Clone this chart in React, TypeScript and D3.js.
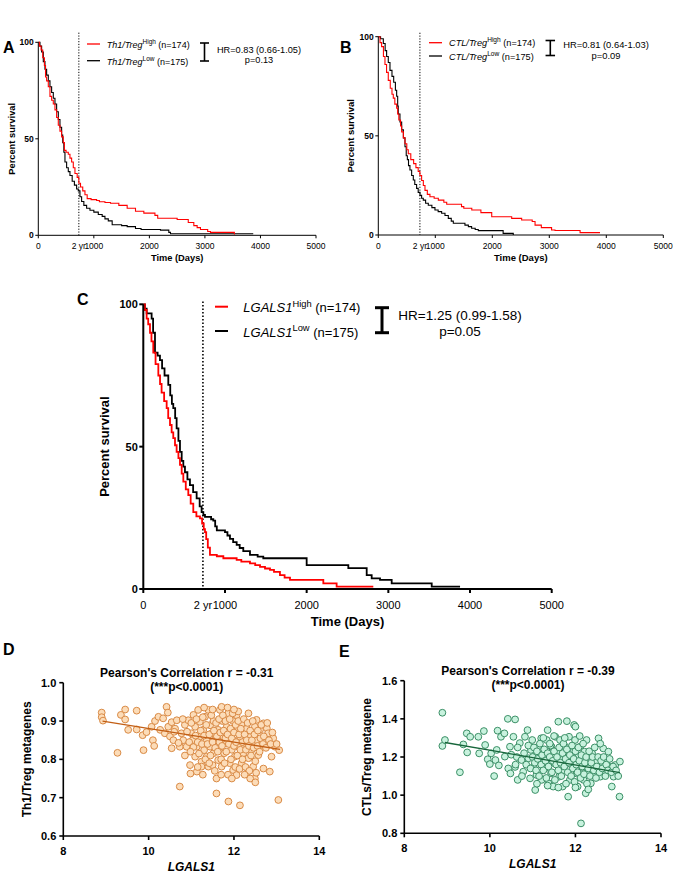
import React from "react";
import * as d3 from "d3";

const FONT = "'Liberation Sans', Arial, sans-serif";

// Kaplan-Meier steps: [days, percent survival]
const th1High = [[0,100],[20,98],[50,96],[80,92],[110,88],[130,82],[150,80],[180,77],[210,72],[240,70],[270,68],[300,65],[330,61],[360,57],[390,54],[420,51],[450,48],[470,44],[500,43],[540,42],[570,40],[600,38],[630,35],[660,32],[700,30],[730,27],[760,25],[800,23],[840,21],[880,19],[950,18.5],[1050,18],[1100,17.4],[1200,17],[1300,16.6],[1450,15.5],[1600,14],[1750,12.5],[1900,11.5],[2100,10.3],[2150,8.8],[2500,8.2],[2700,6.6],[2800,5],[2860,4],[2920,3],[3050,2],[3100,1.5],[3530,0.7],[3540,0.7]];
const th1Low = [[0,100],[30,98],[60,95],[90,90],[120,86],[150,83],[180,80],[210,77],[240,74],[270,71],[300,68],[330,64],[360,60],[390,56],[420,52],[440,48],[460,43],[480,38],[510,35],[540,33],[570,31],[610,28],[650,26],[690,24],[720,23],[750,20],[780,17.5],[820,15.5],[870,14],[930,13],[1000,12],[1080,10.8],[1150,9.8],[1200,8.5],[1260,7.5],[1330,5.5],[1500,5],[1600,4.5],[1750,3.5],[1850,3],[2200,2.7],[2350,1.5],[2380,0.8],[3870,0.8]];
const ctlHigh = [[0,100],[30,97],[58,95],[90,90],[117,86],[145,82],[175,78],[210,74],[240,71],[263,69],[290,66],[322,64],[340,61],[360,58],[390,55],[410,52],[440,49],[468,46],[500,43],[526,41],[570,38],[620,36],[660,34],[700,32],[730,30],[760,27.5],[790,25],[819,22.5],[860,20.5],[906,19.3],[980,18.5],[1053,17.6],[1150,16.5],[1200,15.5],[1460,14.3],[1500,13.5],[1640,12.6],[1800,11.3],[1990,9.2],[2340,8.4],[2515,7.6],[2700,6.8],[2750,5],[2860,3.7],[3040,2.5],[3100,2.3],[3540,1.2],[3890,1.2]];
const ctlLow = [[0,100],[40,99],[88,96.6],[120,93],[146,90],[175,87],[205,83],[240,80],[270,77],[300,73],[322,70],[340,65],[350,61],[380,57],[410,53],[440,49],[468,44.5],[490,40],[510,38],[530,35],[555,32.8],[585,30],[614,27.7],[640,25.5],[672,23.5],[700,21.5],[731,20],[760,18.5],[789,17.6],[830,16],[877,15],[940,13.8],[994,12.6],[1050,11.8],[1111,11],[1170,9.8],[1228,8.4],[1280,7],[1316,5.9],[1520,5],[1580,4.2],[1637,3.4],[1700,2.8],[1754,2.2],[2190,0.8],[2368,0]];
const lgHigh = [[0,100],[20,98],[41,95],[60,93],[82,90],[100,87],[122,83],[150,79],[184,75],[205,72],[224,69],[255,66],[286,63.5],[305,60],[327,57.6],[347,55],[367,53],[388,50.5],[408,48.2],[430,46],[449,43.6],[470,40.5],[490,37.7],[520,35],[551,33],[580,30],[612,27],[650,25.5],[694,24.8],[720,23],[740,21],[755,20],[770,17.5],[790,14.5],[816,12],[900,11.5],[980,10.8],[1143,10.2],[1200,9.6],[1306,9],[1370,8.4],[1429,7.8],[1490,7.2],[1551,6.7],[1600,6],[1673,4.9],[1730,4],[1796,3.2],[2204,2],[2367,0.8],[2816,0.8]];
const lgLow = [[0,100],[20,98.5],[41,96.8],[102,95],[120,90],[143,83],[175,82],[204,80.4],[230,77.5],[260,75],[306,71.7],[330,68],[350,65],[367,63.5],[390,60],[408,56.4],[430,52],[449,48.2],[470,45],[490,43],[510,41],[540,38.5],[571,36.5],[610,34],[653,31.8],[690,29],[714,27],[735,26],[755,25.3],[830,24.5],[857,24],[880,22],[900,20.6],[1000,20],[1030,18.8],[1061,17.6],[1100,16.5],[1143,15.5],[1180,14.4],[1224,13.3],[1306,12],[1400,11.4],[1469,10.8],[2000,8.4],[2510,7.3],[2735,4.9],[2796,3.7],[2898,3.2],[3041,2],[3531,0.8],[3878,0.8]];

const kmXTicks = [0, 1000, 2000, 3000, 4000, 5000];
const kmYTicks = [0, 50, 100];
const twoYears = 730;

// scatter: [LGALS1, metagene ratio]
const th1Scatter = [[8.9,0.922],[8.9,0.910],[8.93,0.901],[9.27,0.817],[9.45,0.930],[9.35,0.916],[9.45,0.904],[9.52,0.877],[9.72,0.927],[9.72,0.878],[9.86,0.863],[9.88,0.824],[9.95,0.871],[10.07,0.885],[10.1,0.85],[10.15,0.90],[10.13,0.835],[10.23,0.911],[10.27,0.877],[10.34,0.907],[10.38,0.868],[10.42,0.937],[10.45,0.922],[10.46,0.885],[10.5,0.86],[10.54,0.897],[10.58,0.85],[10.54,0.829],[10.62,0.88],[10.66,0.902],[10.73,0.729],[10.77,0.868],[10.73,0.833],[10.81,0.85],[10.85,0.89],[10.89,0.833],[10.93,0.902],[10.97,0.785],[10.98,0.763],[11.0,0.868],[11.03,0.85],[11.05,0.916],[11.09,0.885],[11.09,0.807],[11.13,0.768],[11.13,0.833],[11.16,0.929],[11.2,0.898],[11.2,0.859],[11.24,0.794],[11.24,0.781],[11.28,0.877],[11.3,0.824],[11.32,0.911],[11.36,0.85],[11.36,0.807],[11.4,0.929],[11.4,0.781],[11.44,0.889],[11.44,0.833],[11.48,0.868],[11.52,0.90],[11.52,0.816],[11.55,0.85],[11.59,0.75],[11.59,0.711],[11.63,0.877],[11.63,0.798],[11.67,0.929],[11.67,0.833],[11.71,0.937],[11.71,0.781],[11.73,0.90],[11.75,0.859],[11.77,0.816],[11.83,0.885],[11.83,0.842],[11.87,0.92],[11.87,0.69],[11.9,0.79],[11.9,0.868],[11.95,0.825],[11.98,0.90],[11.98,0.85],[11.98,0.772],[12.02,0.807],[12.06,0.915],[12.06,0.759],[12.08,0.877],[12.1,0.833],[12.14,0.68],[12.14,0.859],[12.18,0.893],[12.18,0.79],[12.22,0.816],[12.26,0.842],[12.3,0.763],[12.3,0.88],[12.34,0.92],[12.34,0.803],[12.38,0.859],[12.41,0.824],[12.45,0.781],[12.49,0.75],[12.49,0.885],[12.53,0.85],[12.53,0.903],[12.57,0.811],[12.61,0.877],[12.65,0.838],[12.69,0.894],[12.69,0.776],[12.73,0.859],[12.77,0.881],[12.8,0.868],[12.84,0.768],[12.88,0.807],[12.92,0.855],[12.96,0.833],[13.04,0.694],[13.06,0.824],
  [10.6,0.872],[10.7,0.843],[10.8,0.905],[10.9,0.872],[10.95,0.845],[11.0,0.895],[11.05,0.832],[11.1,0.862],[11.12,0.905],[11.15,0.845],[11.18,0.815],[11.22,0.875],[11.25,0.84],[11.27,0.91],[11.3,0.862],[11.33,0.8],[11.35,0.89],[11.38,0.84],[11.42,0.865],[11.45,0.81],[11.47,0.915],[11.5,0.845],[11.5,0.785],[11.53,0.875],[11.56,0.83],[11.58,0.895],[11.6,0.86],[11.62,0.82],[11.65,0.905],[11.66,0.845],[11.68,0.87],[11.7,0.8],[11.72,0.835],[11.74,0.915],[11.76,0.875],[11.78,0.79],[11.8,0.855],[11.8,0.9],[11.82,0.82],[11.85,0.865],[11.86,0.76],[11.88,0.84],[11.9,0.905],[11.92,0.88],[11.93,0.8],[11.95,0.855],[11.97,0.92],[12.0,0.835],[12.0,0.87],[12.03,0.78],[12.04,0.89],[12.05,0.845],[12.08,0.81],[12.1,0.9],[12.12,0.865],[12.13,0.775],[12.15,0.825],[12.16,0.88],[12.2,0.845],[12.2,0.8],[12.23,0.905],[12.25,0.865],[12.27,0.78],[12.28,0.825],[12.3,0.85],[12.32,0.895],[12.35,0.835],[12.36,0.77],[12.38,0.875],[12.4,0.81],[12.42,0.85],[12.44,0.9],[12.46,0.83],[12.48,0.865],[12.5,0.795],[12.52,0.765],[12.55,0.835],[12.56,0.875],[12.6,0.82],[12.62,0.855],[12.64,0.89],[12.68,0.84],[12.7,0.86],[12.75,0.83],[12.78,0.895],[12.82,0.85],[12.86,0.84],[12.9,0.87],[13.0,0.84],[11.15,0.78],[11.27,0.76],[10.98,0.82],[10.85,0.81],[11.42,0.79],[11.55,0.77],[11.7,0.76],[12.38,0.75],[12.5,0.74],[11.95,0.75],[12.25,0.76],[11.3,0.935],[11.5,0.93],[11.85,0.935],[12.1,0.925],[12.0,0.93]];
const ctlScatter = [[8.89,1.432],[8.89,1.258],[8.95,1.289],[9.3,1.12],[9.38,1.266],[9.46,1.324],[9.47,1.224],[9.54,1.306],[9.73,1.306],[9.75,1.219],[9.86,1.336],[9.89,1.263],[9.95,1.188],[10.0,1.163],[10.03,1.219],[10.1,1.10],[10.13,1.184],[10.18,1.338],[10.16,1.237],[10.21,1.156],[10.26,1.306],[10.34,1.324],[10.35,1.202],[10.42,1.40],[10.43,1.14],[10.47,1.254],[10.48,1.114],[10.5,1.212],[10.55,1.306],[10.59,1.397],[10.59,1.148],[10.63,1.20],[10.65,1.08],[10.7,1.273],[10.74,1.184],[10.78,1.123],[10.82,1.306],[10.88,1.341],[10.9,1.193],[10.94,1.088],[10.96,1.237],[10.99,1.289],[11.02,1.148],[11.06,1.027],[11.08,1.212],[11.09,1.106],[11.13,1.254],[11.15,1.176],[11.2,1.298],[11.21,1.08],[11.25,1.219],[11.29,1.14],[11.33,1.289],[11.35,1.341],[11.37,1.062],[11.39,1.193],[11.43,1.114],[11.44,1.254],[11.48,1.045],[11.51,1.167],[11.53,1.306],[11.56,1.228],[11.6,1.385],[11.62,1.097],[11.64,1.289],[11.68,1.184],[11.7,1.045],[11.72,1.131],[11.76,1.254],[11.8,1.388],[11.82,1.202],[11.83,0.992],[11.85,1.306],[11.87,1.08],[11.91,1.158],[11.95,1.228],[11.97,1.368],[11.99,1.289],[12.0,1.359],[12.03,1.114],[12.05,1.045],[12.07,1.202],[12.11,1.254],[12.13,0.852],[12.15,1.148],[12.19,1.08],[12.21,1.228],[12.24,1.01],[12.26,1.289],[12.28,1.123],[12.31,1.184],[12.36,1.062],[12.39,1.219],[12.42,1.148],[12.46,1.114],[12.5,1.176],[12.54,1.298],[12.58,1.097],[12.61,1.158],[12.65,1.245],[12.69,1.123],[12.74,1.184],[12.77,1.228],[12.81,1.148],[12.85,1.045],[12.89,1.097],[12.93,1.158],[13.03,0.992],[13.04,1.176],
  [10.8,1.22],[10.85,1.16],[10.9,1.26],[10.95,1.14],[11.0,1.2],[11.03,1.25],[11.05,1.17],[11.08,1.13],[11.1,1.23],[11.12,1.19],[11.15,1.1],[11.17,1.27],[11.2,1.16],[11.22,1.21],[11.25,1.13],[11.27,1.24],[11.3,1.18],[11.32,1.09],[11.35,1.22],[11.37,1.15],[11.4,1.2],[11.42,1.26],[11.45,1.12],[11.47,1.18],[11.5,1.23],[11.52,1.08],[11.55,1.16],[11.57,1.2],[11.6,1.13],[11.62,1.25],[11.65,1.17],[11.67,1.1],[11.7,1.22],[11.72,1.27],[11.74,1.15],[11.77,1.19],[11.78,1.06],[11.8,1.24],[11.82,1.12],[11.85,1.17],[11.87,1.21],[11.9,1.1],[11.92,1.26],[11.94,1.14],[11.96,1.19],[11.98,1.07],[12.0,1.23],[12.02,1.16],[12.05,1.12],[12.07,1.25],[12.09,1.18],[12.12,1.09],[12.14,1.21],[12.16,1.15],[12.18,1.27],[12.2,1.11],[12.22,1.17],[12.25,1.2],[12.27,1.06],[12.3,1.14],[12.32,1.23],[12.34,1.1],[12.37,1.17],[12.4,1.2],[12.43,1.13],[12.45,1.25],[12.48,1.09],[12.5,1.15],[12.53,1.2],[12.56,1.12],[12.6,1.18],[12.63,1.14],[12.66,1.2],[12.7,1.1],[12.72,1.16],[12.76,1.13],[12.8,1.19],[12.84,1.12],[12.88,1.15],[12.95,1.13],[13.0,1.1],[10.6,1.16],[10.65,1.25],[10.75,1.1],[11.1,1.06],[11.35,1.05],[11.6,1.04],[12.0,1.04],[12.3,1.03],[11.25,1.3],[11.5,1.31],[11.75,1.3],[12.1,1.31],[11.4,1.27],[12.58,1.27]];

// fitted regression lines
const th1Fit = [[8.92, 0.900], [13.08, 0.826]];
const ctlFit = [[8.95, 1.276], [13.04, 1.118]];

const scatterXTicks = [8, 10, 12, 14];
const th1YTicks = [0.6, 0.7, 0.8, 0.9, 1.0];
const ctlYTicks = [0.8, 1.0, 1.2, 1.4, 1.6];

function KMPanel(p) {
  const x = d3.scaleLinear().domain([0, 5000]).range([p.x0, p.x1]);
  const y = d3.scaleLinear().domain([0, 100]).range([p.yBot, p.yTop]);
  const line = d3.line().x((d) => x(d[0])).y((d) => y(d[1])).curve(d3.curveStepAfter);
  const s = p.sup;
  return (
    <g fontFamily={FONT}>
      <text x={p.letterX} y={p.letterY} fontSize={16} fontWeight="bold">{p.letter}</text>
      <line x1={x(twoYears)} x2={x(twoYears)} y1={y(p.dotTop)} y2={y(0)} stroke="#000" strokeWidth={p.dotW} strokeDasharray={p.dash} />
      <path d={line(p.low)} fill="none" stroke="#000" strokeWidth={p.curveW} />
      <path d={line(p.high)} fill="none" stroke="#f00" strokeWidth={p.curveW} />
      {/* axes */}
      <line x1={p.x0} x2={p.x0} y1={p.yTop} y2={p.yBot} stroke="#000" strokeWidth={p.axisW} />
      <line x1={p.x0} x2={p.x1} y1={p.yBot} y2={p.yBot} stroke="#000" strokeWidth={p.axisW} />
      {kmYTicks.map((t) => (
        <g key={t}>
          <line x1={p.x0 - p.tick} x2={p.x0} y1={y(t)} y2={y(t)} stroke="#000" strokeWidth={p.axisW} />
          <text x={p.x0 - p.tick - 1.5} y={y(t)} dy="0.35em" textAnchor="end" fontSize={p.tickFont} fontWeight="bold">{t}</text>
        </g>
      ))}
      {kmXTicks.map((t) => (
        <g key={t}>
          <line x1={x(t)} x2={x(t)} y1={p.yBot} y2={p.yBot + p.tick} stroke="#000" strokeWidth={p.axisW} />
          <text x={x(t)} y={p.xTickY} textAnchor="middle" fontSize={p.tickFont}>{t}</text>
        </g>
      ))}
      <text x={x(twoYears)} y={p.xTickY} textAnchor="middle" fontSize={p.tickFont}>2 yr</text>
      <text x={(p.x0 + p.x1) / 2} y={p.xLabY} textAnchor="middle" fontSize={p.labFont} fontWeight="bold">Time (Days)</text>
      <text transform={`translate(${p.yLabX},${(p.yTop + p.yBot) / 2}) rotate(-90)`} textAnchor="middle" fontSize={p.labFont} fontWeight="bold">Percent survival</text>
      {/* legend */}
      {[["High", "174", "#f00", p.row1], ["Low", "175", "#000", p.row2]].map(([lvl, n, c, r]) => (
        <g key={lvl}>
          <line x1={p.legX} x2={p.legX + p.legLen} y1={r} y2={r} stroke={c} strokeWidth={p.legW} />
          <text x={p.legTextX} y={r + p.legDy} fontSize={p.legFont}>
            <tspan fontStyle="italic">{p.gene}</tspan>
            <tspan fontSize={p.legFont * 0.72} dy={-p.legFont * 0.42}>{lvl}</tspan>
            <tspan dy={p.legFont * 0.42}>{` (n=${n})`}</tspan>
          </text>
        </g>
      ))}
      <g stroke="#000" strokeWidth={p.barW}>
        <line x1={p.barX} x2={p.barX} y1={s[0]} y2={s[1]} />
        <line x1={p.barX - p.capW / 2} x2={p.barX + p.capW / 2} y1={s[0]} y2={s[0]} />
        <line x1={p.barX - p.capW / 2} x2={p.barX + p.capW / 2} y1={s[1]} y2={s[1]} />
      </g>
      <text x={p.hrX} y={p.hrY} textAnchor="middle" fontSize={p.hrFont}>{p.hr}</text>
      <text x={p.hrX} y={p.pY} textAnchor="middle" fontSize={p.hrFont}>{p.pv}</text>
    </g>
  );
}

function ScatterPanel(p) {
  const x = d3.scaleLinear().domain([8, 14]).range([p.x0, p.x1]);
  const y = d3.scaleLinear().domain(p.yDomain).range([p.yBot, p.yTop]);
  const fit = d3.line().x((d) => x(d[0])).y((d) => y(d[1]));
  return (
    <g fontFamily={FONT}>
      <text x={p.letterX} y={p.letterY} fontSize={16} fontWeight="bold">{p.letter}</text>
      <text x={p.titleX} y={p.titleY} textAnchor="middle" fontSize={12} fontWeight="bold">{p.title}</text>
      <text x={p.titleX} y={p.titleY + 14} textAnchor="middle" fontSize={12} fontWeight="bold">(***p&lt;0.0001)</text>
      {p.data.map((d, i) => (
        <circle key={i} cx={x(d[0])} cy={y(d[1])} r={3.4} fill={p.fill} stroke={p.stroke} strokeWidth={1} />
      ))}
      <path d={fit(p.fit)} fill="none" stroke={p.lineColor} strokeWidth={1.3} />
      <line x1={p.x0} x2={p.x0} y1={p.yTop} y2={p.yBot} stroke="#000" strokeWidth={1.6} />
      <line x1={p.x0} x2={p.x1} y1={p.yBot} y2={p.yBot} stroke="#000" strokeWidth={1.6} />
      {p.yTicks.map((t) => (
        <g key={t}>
          <line x1={p.x0 - 4} x2={p.x0} y1={y(t)} y2={y(t)} stroke="#000" strokeWidth={1.6} />
          <text x={p.x0 - 7} y={y(t)} dy="0.36em" textAnchor="end" fontSize={11} fontWeight="bold">{d3.format(".1f")(t)}</text>
        </g>
      ))}
      {scatterXTicks.map((t) => (
        <g key={t}>
          <line x1={x(t)} x2={x(t)} y1={p.yBot} y2={p.yBot + 4} stroke="#000" strokeWidth={1.6} />
          <text x={x(t)} y={p.yBot + 19} textAnchor="middle" fontSize={11} fontWeight="bold">{t}</text>
        </g>
      ))}
      <text x={(p.x0 + p.x1) / 2} y={p.yBot + 35} textAnchor="middle" fontSize={12} fontWeight="bold" fontStyle="italic">LGALS1</text>
      <text transform={`translate(${p.yLabX},${(p.yTop + p.yBot) / 2}) rotate(-90)`} textAnchor="middle" fontSize={12} fontWeight="bold">{p.yLabel}</text>
    </g>
  );
}

export default function App() {
  return (
    <svg width={675} height={873} style={{ position: "absolute", left: 0, top: 0, background: "#fff" }}>
      <KMPanel letter="A" letterX={3} letterY={53} x0={38.3} x1={316} yTop={42.3} yBot={235.3}
        high={th1High} low={th1Low} dotTop={105} dotW={1} dash="1.2 1.6" curveW={1.1} axisW={1} tick={3}
        tickFont={8.5} xTickY={249} xLabY={261} labFont={9.3} yLabX={15}
        gene="Th1/Treg" legX={87} legLen={13} legTextX={106.7} row1={44} row2={60.7} legDy={4} legFont={9} legW={1.3}
        barX={204.5} capW={9} sup={[43, 61]} barW={1.6}
        hrX={259} hrY={52.5} pY={63} hrFont={9.2} hr="HR=0.83 (0.66-1.05)" pv="p=0.13" />
      <KMPanel letter="B" letterX={340} letterY={53} x0={378.3} x1={663.3} yTop={36.7} yBot={235}
        high={ctlHigh} low={ctlLow} dotTop={102} dotW={1} dash="1.2 1.6" curveW={1.1} axisW={1} tick={3}
        tickFont={8.5} xTickY={249} xLabY={261} labFont={9.5} yLabX={353.5}
        gene="CTL/Treg" legX={429} legLen={13} legTextX={449} row1={42.7} row2={56} legDy={3.5} legFont={9.2} legW={1.3}
        barX={550.3} capW={9.5} sup={[40.5, 55.5]} barW={1.6}
        hrX={606} hrY={48.3} pY={58.5} hrFont={9.4} hr="HR=0.81 (0.64-1.03)" pv="p=0.09" />
      <KMPanel letter="C" letterX={77} letterY={305} x0={143.3} x1={551.7} yTop={304.3} yBot={589}
        high={lgHigh} low={lgLow} dotTop={101} dotW={1.6} dash="1.5 2" curveW={1.8} axisW={2} tick={4}
        tickFont={11} xTickY={609} xLabY={626} labFont={13} yLabX={108.5}
        gene="LGALS1" legX={215} legLen={13} legTextX={243.3} row1={306.7} row2={331} legDy={5.5} legFont={13} legW={2}
        barX={382} capW={14} sup={[307.7, 332.7]} barW={3}
        hrX={460} hrY={320} pY={336} hrFont={13.5} hr="HR=1.25 (0.99-1.58)" pv="p=0.05" />
      <ScatterPanel letter="D" letterX={3} letterY={655} x0={63.3} x1={319.3} yTop={682.7} yBot={836}
        yDomain={[0.6, 1.0]} yTicks={th1YTicks} data={th1Scatter} fit={th1Fit}
        fill="#fcdcb8" stroke="#d98a45" lineColor="#c25e14"
        title="Pearson's Correlation r = -0.31" titleX={186.7} titleY={676.7}
        yLabel="Th1/Treg metagenes" yLabX={31} />
      <ScatterPanel letter="E" letterX={339} letterY={657} x0={404.3} x1={661} yTop={680.7} yBot={833.3}
        yDomain={[0.8, 1.6]} yTicks={ctlYTicks} data={ctlScatter} fit={ctlFit}
        fill="#c8f2de" stroke="#3b8f66" lineColor="#17663b"
        title="Pearson's Correlation r = -0.39" titleX={528} titleY={675}
        yLabel="CTLs/Treg metagene" yLabX={371} />
    </svg>
  );
}
